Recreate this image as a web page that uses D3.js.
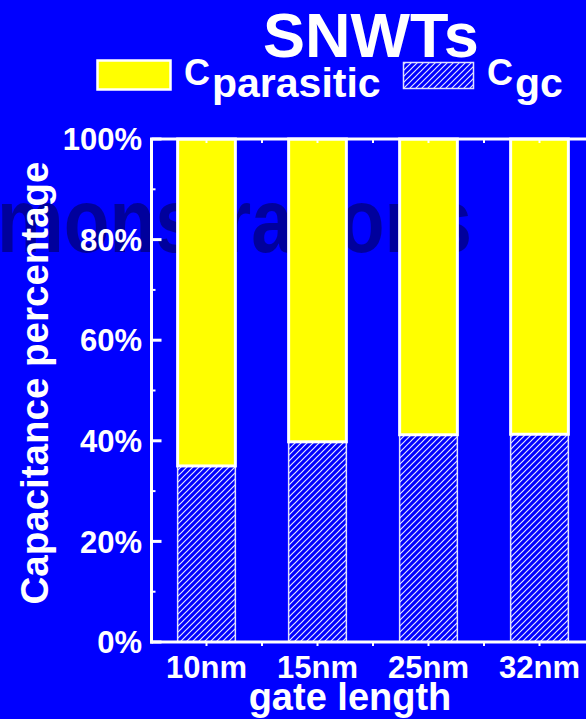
<!DOCTYPE html>
<html>
<head>
<meta charset="utf-8">
<script src="https://cdn.jsdelivr.net/npm/d3@7"></script>
<style>
  html, body { margin: 0; padding: 0; background: #0000ff; }
  svg { display: block; }
  text { font-family: "Liberation Sans", Arial, sans-serif; font-weight: bold; fill: #ffffff; }
</style>
</head>
<body>
<script>
const categories = ["10nm", "15nm", "25nm", "32nm"];
const cgcValues = [35.0, 39.8, 41.2, 41.3];
const parasiticValues = [65.0, 60.2, 58.8, 58.7];
const yTickValues = [0, 20, 40, 60, 80, 100];
const yMinorValues = [10, 30, 50, 70, 90];
const yTickLabels = ["0%", "20%", "40%", "60%", "80%", "100%"];
const titleText = "SNWTs";
const xTitle = "gate length";
const yTitle = "Capacitance percentage";
const watermark = "Demonstrations";

const W = 586, H = 719;
const svg = d3.select("body").append("svg").attr("width", W).attr("height", H);
svg.append("rect").attr("width", W).attr("height", H).attr("fill", "#0000ff");

const defs = svg.append("defs");
const pat = defs.append("pattern").attr("id", "hatch")
  .attr("patternUnits", "userSpaceOnUse").attr("width", 6).attr("height", 6);
pat.append("rect").attr("width", 6).attr("height", 6).attr("fill", "#0000ff");
pat.append("path").attr("d", "M-1,1 L1,-1 M0,6 L6,0 M5,7 L7,5")
  .attr("stroke", "#e6e6ff").attr("stroke-width", 1.2);

// watermark behind everything
svg.append("text").attr("transform", "translate(472,252) scale(1,1.2)")
  .attr("text-anchor", "end").style("font-size", "75px").style("fill", "#00009c")
  .text(watermark);

const x = d3.scaleBand().domain(categories).range([151, 595]).paddingInner(0.48).paddingOuter(0.24);
const y = d3.scaleLinear().domain([0, 100]).range([642, 139]);

const g = svg.append("g");
// hatched Cgc
g.selectAll("rect.cgc").data(categories).join("rect").attr("class", "cgc")
  .attr("x", d => x(d)).attr("width", x.bandwidth())
  .attr("y", (d, i) => y(cgcValues[i])).attr("height", (d, i) => y(0) - y(cgcValues[i]))
  .attr("fill", "url(#hatch)").attr("stroke", "#e0e0ff").attr("stroke-width", 1.5);
// yellow parasitic
g.selectAll("rect.par").data(categories).join("rect").attr("class", "par")
  .attr("x", d => x(d)).attr("width", x.bandwidth())
  .attr("y", (d, i) => y(cgcValues[i] + parasiticValues[i]))
  .attr("height", (d, i) => y(cgcValues[i]) - y(cgcValues[i] + parasiticValues[i]))
  .attr("fill", "#ffff00").attr("stroke", "#ffffff").attr("stroke-width", 3);

// frame
const x0 = 151.5, x1 = 595;
const frame = svg.append("g").attr("stroke", "#ffffff").attr("fill", "none");
frame.append("line").attr("x1", x0).attr("x2", x0).attr("y1", y(100)).attr("y2", y(0) + 1.5).attr("stroke-width", 3);
frame.append("line").attr("x1", x0 - 1.5).attr("x2", x1).attr("y1", y(0)).attr("y2", y(0)).attr("stroke-width", 3);
frame.append("line").attr("x1", x0 - 1.5).attr("x2", x1).attr("y1", y(100)).attr("y2", y(100)).attr("stroke-width", 3);

// y ticks
frame.selectAll("line.ymaj").data(yTickValues).join("line").attr("class", "ymaj")
  .attr("x1", x0).attr("x2", x0 + 10).attr("y1", d => y(d)).attr("y2", d => y(d)).attr("stroke-width", 3);
frame.selectAll("line.ymin").data(yMinorValues).join("line").attr("class", "ymin")
  .attr("x1", x0).attr("x2", x0 + 4).attr("y1", d => y(d)).attr("y2", d => y(d)).attr("stroke-width", 2);

// x ticks at band centers and between
const step = x.step();
const xTickPos = [];
categories.forEach(c => { xTickPos.push(x(c) + x.bandwidth() / 2); });
categories.forEach(c => { xTickPos.push(x(c) + x.bandwidth() / 2 + step / 2); });
frame.selectAll("line.xb").data(xTickPos).join("line").attr("class", "xb")
  .attr("x1", d => d).attr("x2", d => d).attr("y1", y(0)).attr("y2", y(0) + 4).attr("stroke-width", 2);
frame.selectAll("line.xt").data(xTickPos).join("line").attr("class", "xt")
  .attr("x1", d => d).attr("x2", d => d).attr("y1", y(100)).attr("y2", y(100) + 4).attr("stroke-width", 2);

// y labels
svg.selectAll("text.yl").data(yTickValues).join("text").attr("class", "yl")
  .attr("x", 142).attr("y", d => y(d)).attr("dy", "0.36em").attr("text-anchor", "end")
  .style("font-size", "31px").text((d, i) => yTickLabels[i]);

// x labels
svg.selectAll("text.xl").data(categories).join("text").attr("class", "xl")
  .attr("x", d => x(d) + x.bandwidth() / 2).attr("y", 678).attr("text-anchor", "middle")
  .style("font-size", "31px").text(d => d);

// axis titles
svg.append("text").attr("x", 350).attr("y", 710).attr("text-anchor", "middle")
  .style("font-size", "38px").text(xTitle);
svg.append("text").attr("transform", "translate(48,383) rotate(-90)").attr("text-anchor", "middle")
  .style("font-size", "38.5px").text(yTitle);

// title
svg.append("text").attr("x", 371).attr("y", 57).attr("text-anchor", "middle")
  .style("font-size", "63px").text(titleText);

// legend
svg.append("rect").attr("x", 97.5).attr("y", 60.5).attr("width", 73).attr("height", 29)
  .attr("fill", "#ffff00").attr("stroke", "#ffffff").attr("stroke-width", 2.5);
const l1 = svg.append("text").attr("x", 184).attr("y", 85);
l1.append("tspan").style("font-size", "36px").text("C");
l1.append("tspan").attr("dx", 2).attr("dy", 12).style("font-size", "41px").text("parasitic");

svg.append("rect").attr("x", 403.5).attr("y", 62.5).attr("width", 70).attr("height", 26)
  .attr("fill", "url(#hatch)").attr("stroke", "#e0e0ff").attr("stroke-width", 1.5);
const l2 = svg.append("text").attr("x", 487).attr("y", 85);
l2.append("tspan").style("font-size", "36px").text("C");
l2.append("tspan").attr("dx", 2).attr("dy", 12).style("font-size", "41px").text("gc");
</script>
</body>
</html>
